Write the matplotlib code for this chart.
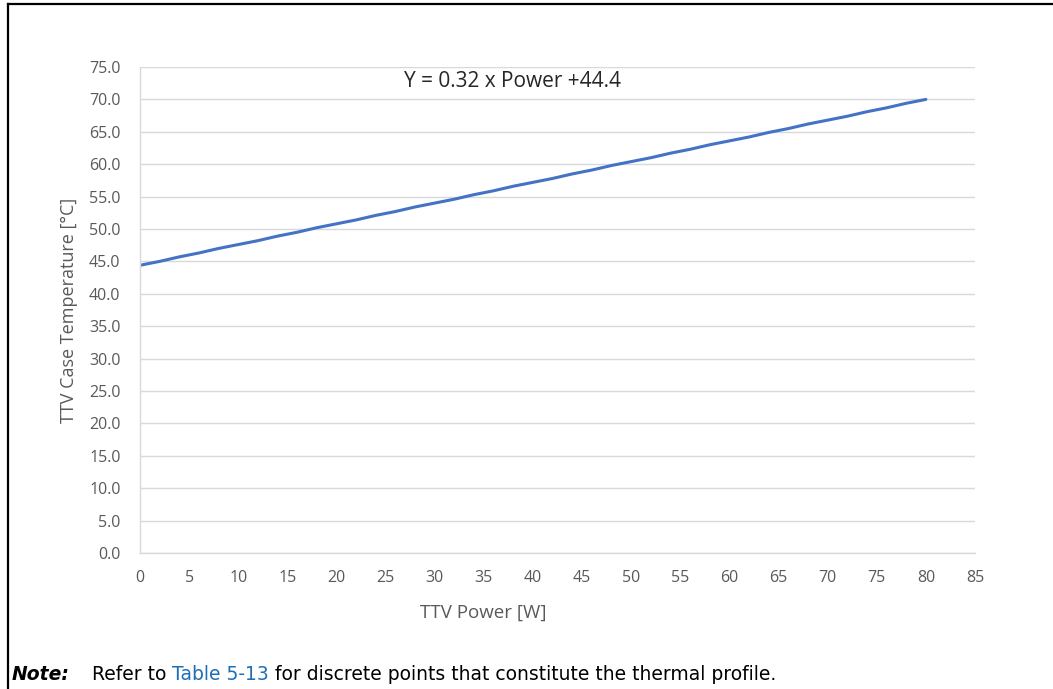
import matplotlib as mpl
mpl.use('Agg')
import matplotlib.pyplot as plt
from matplotlib.lines import Line2D

# thermal profile points (Table 5-13)
power = [0, 2, 4, 6, 8, 10, 12, 14, 16, 18, 20, 22, 24, 26, 28, 30, 32, 34, 36, 38, 40,
         42, 44, 46, 48, 50, 52, 54, 56, 58, 60, 62, 64, 66, 68, 70, 72, 74, 76, 78, 80]
case_temp = [44.4, 45.0, 45.7, 46.3, 47.0, 47.6, 48.2, 48.9, 49.5, 50.2, 50.8,
             51.4, 52.1, 52.7, 53.4, 54.0, 54.6, 55.3, 55.9, 56.6, 57.2,
             57.8, 58.5, 59.1, 59.8, 60.4, 61.0, 61.7, 62.3, 63.0, 63.6,
             64.2, 64.9, 65.5, 66.2, 66.8, 67.4, 68.1, 68.7, 69.4, 70.0]
xticks = list(range(0, 90, 5))
yticks = [i * 5.0 for i in range(16)]

plt.rcParams['font.family'] = ['Open Sans', 'DejaVu Sans']

W, H = 1053, 689
fig = plt.figure(figsize=(W / 100, H / 100), dpi=100)
ax = fig.add_axes([140 / W, 1 - 553 / H, 835 / W, 486 / H])

grey = '#595959'
ax.plot(power, case_temp, color='#4472C4', lw=2.2, solid_capstyle='round')
ax.set_xlim(0, 85)
ax.set_ylim(0, 75)
ax.set_xticks(xticks)
ax.set_yticks(yticks)
ax.set_yticklabels(['{:.1f}'.format(v) for v in yticks])
ax.tick_params(length=0, labelsize=11.5, colors=grey)
ax.tick_params(axis='y', pad=14)
ax.tick_params(axis='x', pad=12)
ax.grid(axis='y', color='#d9d9d9', lw=1)
ax.set_axisbelow(True)
for side in ('top', 'right'):
    ax.spines[side].set_visible(False)
for side in ('left', 'bottom'):
    ax.spines[side].set_color('#d9d9d9')
    ax.spines[side].set_linewidth(1)

ax.set_xlabel('TTV Power [W]', fontsize=13.5, color=grey)
ax.xaxis.set_label_coords((483 - 140) / 835, -(604 - 553) / 486)
ax.set_ylabel('TTV Case Temperature [°C]', fontsize=13, color=grey)
ax.yaxis.set_label_coords(-(140 - 78) / 835, 0.5)

ax.text(37.9, 72.7, 'Y = 0.32 x Power +44.4', fontsize=15, color='#262626',
        ha='center', va='center')

# frame lines of the figure box
fig.add_artist(Line2D([7.5 / W, 7.5 / W], [0, 1 - 3.5 / H], color='black', lw=1.6,
                      transform=fig.transFigure, solid_capstyle='projecting'))
fig.add_artist(Line2D([7.5 / W, 1], [1 - 3.5 / H, 1 - 3.5 / H], color='black', lw=1.6,
                      transform=fig.transFigure, solid_capstyle='projecting'))

# note below the figure
fs = 13.5
note_font = ['DejaVu Sans']
t1 = fig.text(12 / W, 1 - 680 / H, 'Note:', fontsize=fs, fontweight='bold', family=note_font,
              fontstyle='italic', color='black', va='baseline')
t2 = fig.text(92 / W, 1 - 680 / H, 'Refer to ', fontsize=fs, color='black', va='baseline',
              family=note_font)
t3 = ax.annotate('Table 5-13', xy=(1, 0), xycoords=t2, fontsize=fs, color='#1f6fb5',
                 va='bottom', annotation_clip=False, family=note_font)
t4 = ax.annotate(' for discrete points that constitute the thermal profile.', xy=(1, 0),
                 xycoords=t3, fontsize=fs, color='black', va='bottom', annotation_clip=False,
                 family=note_font)

fig.savefig('out.png', dpi=100)
